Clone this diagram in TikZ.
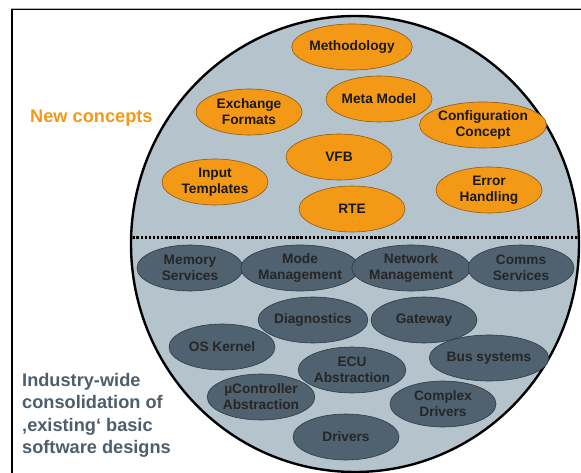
\documentclass[tikz,border=0pt]{standalone}
\usepackage{fontspec}
\setmainfont{Liberation Sans}
\usetikzlibrary{shapes.geometric}
\definecolor{corefill}{RGB}{180,195,204}
\definecolor{newfill}{RGB}{243,153,22}
\definecolor{newedge}{RGB}{140,90,20}
\definecolor{bswfill}{RGB}{80,97,111}
\definecolor{bswedge}{RGB}{45,58,68}
\definecolor{bswtext}{RGB}{78,94,107}
\tikzset{
  blob/.style={ellipse, inner sep=0pt, minimum width=106pt, minimum height=46pt,
    align=center, line width=0.6pt, text=black!90,
    font=\bfseries\fontsize{13.7}{16}\selectfont},
  newblob/.style={blob, draw=newedge, fill=newfill},
  bswblob/.style={blob, draw=bswedge, fill=bswfill, text=black!85},
  sidetext/.style={inner sep=0pt, align=left, font=\bfseries\fontsize{18.2}{22.5}\selectfont}
}
\begin{document}
\begin{tikzpicture}[x=1pt,y=-1pt]
\useasboundingbox (0,0) rectangle (581,473);
\fill[white] (0,0) rectangle (581,473);
% frame
\draw[gray!60, line width=0.8pt] (11,8) -- (581,8);
\draw[black, line width=1.6pt] (12,9.5) -- (581,9.5);
\draw[black, line width=2pt] (12,9) -- (12,473);

% the layered core
\node[ellipse, draw=black, line width=2.4pt, fill=corefill,
      minimum width=448pt, minimum height=456pt, inner sep=0pt] (core) at (355,244) {};
\begin{scope}
  \clip (355,244) ellipse [x radius=222.5pt, y radius=226pt];
  \draw[line width=3pt, dash pattern=on 2.4pt off 1.7pt] (120,238) -- (590,238);
\end{scope}

% new concepts
\node[newblob] (meth) at (352,47)  {Methodology};
\node[newblob] (meta) at (379,99)  {Meta Model};
\node[newblob] (exch) at (249,112) {Exchange\\Formats};
\node[newblob] (conf) at (483,125) {Configuration\\Concept};
\node[newblob] (vfb)  at (339,157) {VFB};
\node[newblob] (inp)  at (215,182) {Input\\Templates};
\node[newblob] (rte)  at (352,209) {RTE};
\node[newblob] (err)  at (489,190) {Error\\Handling};

% basic software
\node[bswblob] (mem)   at (190,268) {Memory\\Services};
\node[bswblob] (mode)  at (300,268) {Mode\\Management};
\node[bswblob] (net)   at (411,268) {Network\\Management};
\node[bswblob] (comms) at (521,268) {Comms\\Services};
\node[bswblob] (diag)  at (313,320) {Diagnostics};
\node[bswblob] (gate)  at (424,320) {Gateway};
\node[bswblob] (os)    at (222,347) {OS Kernel};
\node[bswblob] (ecu)   at (352,370) {ECU\\Abstraction};
\node[bswblob] (bus)   at (489,358) {Bus systems};
\node[bswblob] (uc)    at (261,397) {µController\\Abstraction};
\node[bswblob] (cplx)  at (443,404) {Complex\\Drivers};
\node[bswblob] (drv)   at (346,437) {Drivers};

% side captions
\node[sidetext, text=newfill, anchor=west] (newlbl) at (30,118) {New concepts};
\node[sidetext, text=bswtext, anchor=north west] (bswlbl) at (22,373)
  {Industry-wide\\consolidation of\\‚existing‘ basic\\software designs};
\end{tikzpicture}
\end{document}
